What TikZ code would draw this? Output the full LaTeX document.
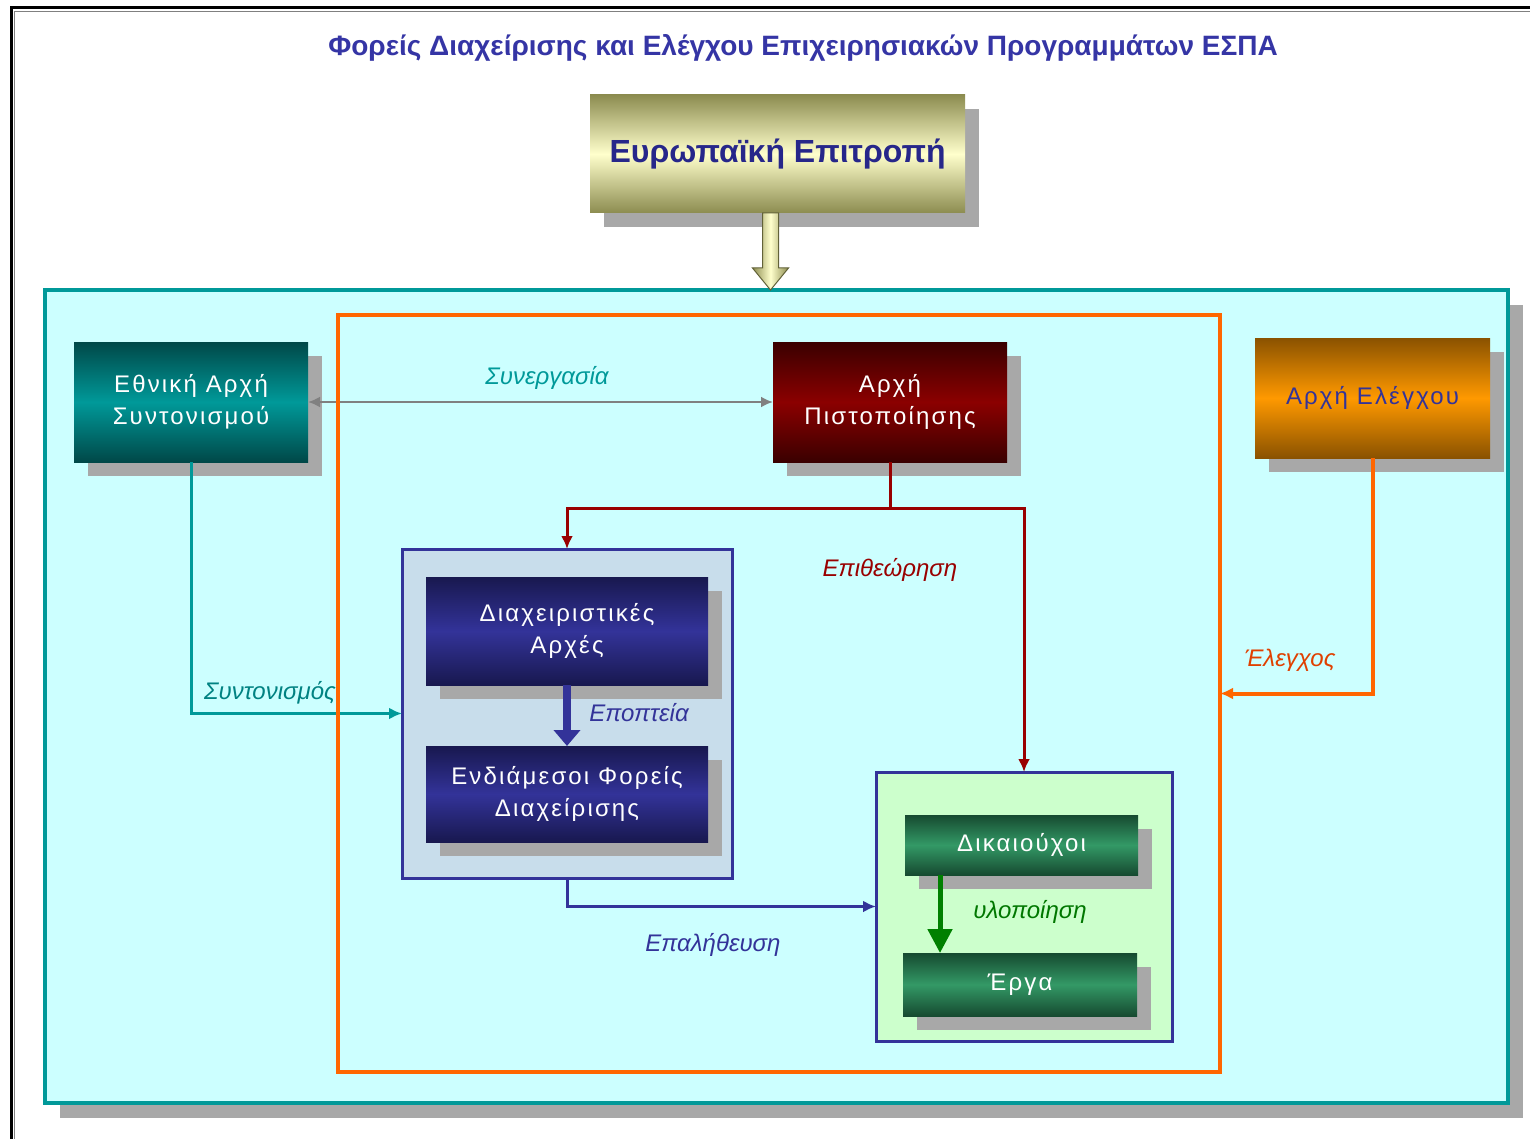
\documentclass[tikz,border=0pt]{standalone}
\usepackage{fontspec}
\setmainfont{Liberation Sans}
\newfontfamily\boxfont[LetterSpace=9]{Liberation Sans}
\usetikzlibrary{arrows.meta,calc,shadows}
\definecolor{tealb}{HTML}{009999}
\definecolor{tealdk}{HTML}{004848}
\definecolor{cyanbg}{HTML}{CCFFFF}
\definecolor{redmid}{HTML}{8B0000}
\definecolor{reddk}{HTML}{3A0000}
\definecolor{orgmid}{HTML}{FF9900}
\definecolor{orgdk}{HTML}{8A5200}
\definecolor{navymid}{HTML}{333399}
\definecolor{navydk}{HTML}{18184F}
\definecolor{grnmid}{HTML}{339966}
\definecolor{grndk}{HTML}{164A30}
\definecolor{olivec}{HTML}{8C8C50}
\definecolor{lyellow}{HTML}{FFFFCC}
\definecolor{shadowc}{HTML}{A8A8A8}
\definecolor{orangeln}{HTML}{FF6600}
\definecolor{mgfill}{HTML}{C8DDEB}
\definecolor{bgfill}{HTML}{CCFFCC}
\definecolor{titlec}{HTML}{3535A5}
\definecolor{eutext}{HTML}{27278A}
\definecolor{linkred}{HTML}{990000}
\definecolor{lblgreen}{HTML}{007700}
\definecolor{lblorange}{HTML}{E04000}
\begin{document}
\begin{tikzpicture}[x=1pt,y=-1pt,
  box/.style={anchor=north west, inner sep=0pt, outer sep=0pt, align=center,
    text=white, font=\boxfont\fontsize{24}{32}\selectfont,
    drop shadow={shadow xshift=14pt, shadow yshift=-14pt, fill=shadowc, opacity=1}},
  tealbox/.style={box, top color=tealdk, bottom color=tealdk, middle color=tealb},
  redbox/.style={box, top color=reddk, bottom color=reddk, middle color=redmid},
  orgbox/.style={box, top color=orgdk, bottom color=orgdk, middle color=orgmid, text=navymid},
  navybox/.style={box, top color=navydk, bottom color=navydk, middle color=navymid},
  grnbox/.style={box, top color=grndk, bottom color=grndk, middle color=grnmid},
  grp/.style={anchor=north west, inner sep=0pt, outer sep=0pt, draw=navymid, line width=3pt},
  lbl/.style={font=\itshape\fontsize{24}{28}\selectfont, inner sep=1pt},
  link/.style={line width=3pt, -{Latex[length=13pt,width=12pt]}}
]
\useasboundingbox (0,0) rectangle (1530,1139);
\fill[white] (0,0) rectangle (1530,1139);
\draw[line width=3pt] (11,1139) -- (11,8) -- (1530,8);
\draw[line width=1.2pt, gray] (14.5,1139) -- (14.5,11.5) -- (1530,11.5);

% title
\node[font=\bfseries\fontsize{28}{32}\selectfont, text=titlec] (title) at (803,48)
  {Φορείς Διαχείρισης και Ελέγχου Επιχειρησιακών Προγραμμάτων ΕΣΠΑ};

% big box
\node[anchor=north west, inner sep=0pt, outer sep=0pt, minimum width=1463pt, minimum height=813pt,
  fill=cyanbg, draw=tealb, line width=4pt,
  drop shadow={shadow xshift=15pt, shadow yshift=-15pt, fill=shadowc, opacity=1}] (big) at (45,290) {};

% European commission
\node[box, minimum width=375pt, minimum height=118pt, top color=olivec, bottom color=olivec, middle color=lyellow,
  text=eutext, font=\bfseries\fontsize{32}{36}\selectfont] (eu) at (590,95) {Ευρωπαϊκή Επιτροπή};
\coordinate (ea) at ($(eu.south)+(-7,0)$);
\coordinate (et) at (ea |- big.north);
\draw[draw=olivec!70!black, line width=1pt, left color=olivec, right color=olivec, middle color=lyellow]
  ($(ea)+(-8,0)$) -- ($(ea)+(8,0)$) -- ($(et)+(8,-22)$) -- ($(et)+(18,-22)$) -- (et)
  -- ($(et)+(-18,-22)$) -- ($(et)+(-8,-22)$) -- cycle;

% orange frame (named, drawn later)
\node[anchor=north west, inner sep=0pt, outer sep=0pt, minimum width=882pt, minimum height=757pt] (ob) at (338,315) {};

% main boxes
\node[tealbox, minimum width=234pt, minimum height=120pt] (ean) at (74,342) {Εθνική Αρχή\\Συντονισμού};
\node[redbox, minimum width=234pt, minimum height=120pt] (ap) at (773,342) {Αρχή\\Πιστοποίησης};
\node[orgbox, minimum width=235pt, minimum height=120pt] (ae) at (1255,338) {Αρχή Ελέγχου};

% management group
\node[grp, fill=mgfill, minimum width=330pt, minimum height=329pt] (mg) at (402,549) {};
\node[navybox, minimum width=282pt, minimum height=108pt] (da) at (426,577) {Διαχειριστικές\\Αρχές};
\node[navybox, minimum width=282pt, minimum height=96pt] (ef) at (426,746) {Ενδιάμεσοι Φορείς\\Διαχείρισης};

% beneficiaries group
\node[grp, fill=bgfill, minimum width=296pt, minimum height=269pt] (bg) at (876,772) {};
\node[grnbox, minimum width=233pt, minimum height=60pt] (dk) at (905,815) {Δικαιούχοι};
\node[grnbox, minimum width=234pt, minimum height=63pt] (er) at (903,953) {Έργα};

% connectors
\draw[line width=2.5pt, gray, {Latex[length=12pt,width=11pt]}-{Latex[length=12pt,width=11pt]}] (ean.east) -- (ap.west);
\draw[link, linkred] (ap.south) -- ++(0,46) coordinate (rj) -| (mg.north);
\draw[link, linkred] (rj) -| (bg.north);
\draw[link, tealb] (ean.south) |- (mg.west);
\draw[link, navymid] (mg.south) |- (bg.west);
\draw[link, orangeln, line width=4pt] (ae.south) |- (ob.east);
\draw[line width=8pt, navymid, -{Triangle[length=16pt,width=26pt]}] (da.south) -- (ef.north);
\draw[line width=5pt, green!50!black, -{Triangle[length=24pt,width=24pt]}]
  ($(dk.south west)+(35,0)$) -- ($(er.north west)+(37,0)$);

% orange frame border
\draw[orangeln, line width=4pt] (ob.north west) rectangle (ob.south east);

% labels
\node[lbl, text=tealb] (l1) at (547,378) {Συνεργασία};
\node[lbl, text=linkred] (l2) at (890,570) {Επιθεώρηση};
\node[lbl, text=navymid] (l3) at (639,713) {Εποπτεία};
\node[lbl, text=tealb!85!black] (l4) at (270,693) {Συντονισμός};
\node[lbl, text=lblgreen] (l5) at (1030,912) {υλοποίηση};
\node[lbl, text=navymid] (l6) at (713,945) {Επαλήθευση};
\node[lbl, text=lblorange] (l7) at (1290,660) {Έλεγχος};
\end{tikzpicture}
\end{document}
